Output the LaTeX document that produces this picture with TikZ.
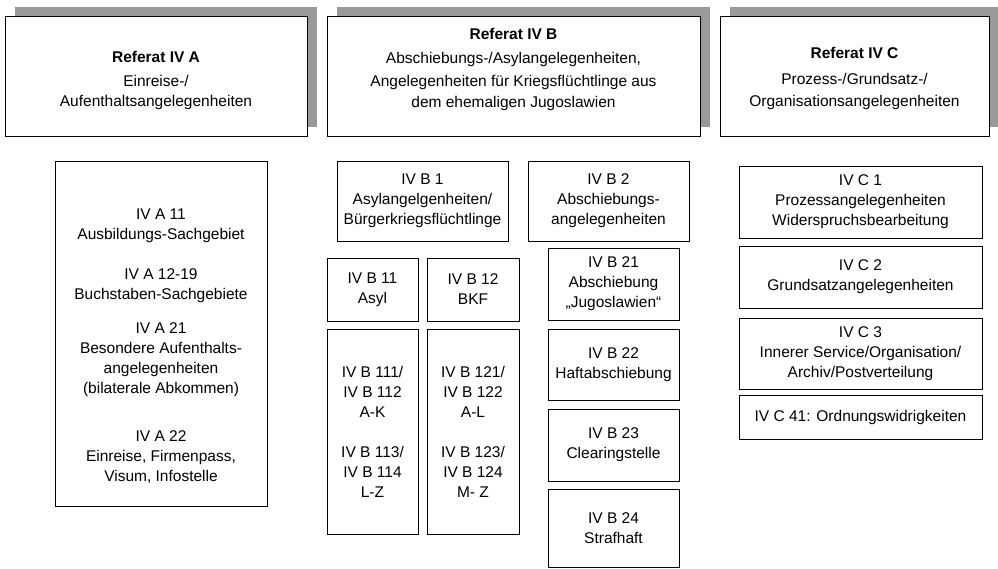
\documentclass[tikz,border=0pt]{standalone}
\usepackage{fontspec}
\setmainfont{Liberation Sans}
\usepackage{tikz}
\usetikzlibrary{shadows,positioning,calc}
\definecolor{schatten}{HTML}{999999}

\begin{document}
\begin{tikzpicture}[x=1pt, y=-1pt,
		every node/.style={font=\fontsize{15.5}{20}\selectfont},
		kasten/.style={draw, rectangle, fill=white, align=center, line width=0.8pt, inner sep=0pt},
		fach/.style={kasten, execute at begin node={\mbox{}\\[-3pt]}},
		referat/.style={kasten, minimum height=120pt, drop shadow={shadow xshift=10pt, shadow yshift=10pt, fill=schatten, opacity=1}}]
		\useasboundingbox (0,0) rectangle (998,568);
		% Referate
		\node[referat, minimum width=302pt] (refa) at (156,76.5) {\mbox{}\\[-1pt] \textbf{Referat IV A}\\[4pt] Einreise-/\\ Aufenthaltsangelegenheiten};
		\node[referat, minimum width=373pt] (refb) at (513.5,76.5) {\textbf{Referat IV B}\\[4pt] Abschiebungs-/Asylangelegenheiten,\\[3pt] Angelegenheiten für Kriegsflüchtlinge aus\\[1pt] dem ehemaligen Jugoslawien\\[-2pt] \mbox{}};
		\node[referat, minimum width=269pt] (refc) at (854.5,76.5) {\mbox{}\\[-4pt] \textbf{Referat IV C}\\[6pt] Prozess-/Grundsatz-/\\[2pt] Organisationsangelegenheiten};
		
		% IV A
		\node[kasten, minimum width=212pt, minimum height=345pt] (ia) at (161,333.5) {\mbox{}\\[16pt] IV A 11\\ Ausbildungs-Sachgebiet\\[20pt] IV A 12-19\\ Buchstaben-Sachgebiete\\[14pt] IV A 21\\ Besondere Aufenthalts-\\ angelegenheiten\\ (bilaterale Abkommen)\\[28pt] IV A 22\\ Einreise, Firmenpass,\\ Visum, Infostelle};
		
		% IV B
		\node[fach, minimum width=171pt, minimum height=80pt] (ib1) at (422.5,201) {IV B 1\\ Asylangelgenheiten/\\ Bürgerkriegsflüchtlinge};
		\node[fach, minimum width=161pt, minimum height=80pt] (ib2) at (608.5,201) {IV B 2\\ Abschiebungs-\\ angelegenheiten};
		\node[fach, minimum width=91pt, minimum height=63pt] (ib11) at (372.5,289.5) {IV B 11\\ Asyl};
		\node[fach, minimum width=92pt, minimum height=63pt] (ib12) at (473,289.5) {IV B 12\\ BKF};
		\node[fach, minimum width=91pt, minimum height=205pt] (ib111) at (372.5,431.5) {IV B 111/\\ IV B 112\\ A-K\\[20pt] IV B 113/\\ IV B 114\\ L-Z};
		\node[fach, minimum width=92pt, minimum height=205pt] (ib121) at (473,431.5) {IV B 121/\\ IV B 122\\ A-L\\[20pt] IV B 123/\\ IV B 124\\ M- Z};
		\node[fach, minimum width=131pt, minimum height=72pt] (ib21) at (613.5,284) {IV B 21\\ Abschiebung\\ „Jugoslawien“};
		\node[fach, minimum width=131pt, minimum height=71pt] (ib22) at (613.5,364.5) {IV B 22\\ Haftabschiebung};
		\node[fach, minimum width=131pt, minimum height=72pt] (ib23) at (613.5,445) {IV B 23\\ Clearingstelle};
		\node[fach, minimum width=131pt, minimum height=78pt] (ib24) at (613.5,528) {IV B 24\\ Strafhaft};
		
		% IV C
		\node[fach, minimum width=243pt, minimum height=72pt] (ic1) at (860.5,202) {IV C 1\\ Prozessangelegenheiten\\ Widerspruchsbearbeitung};
		\node[fach, minimum width=243pt, minimum height=62pt] (ic2) at (860.5,277) {IV C 2\\ Grundsatzangelegenheiten};
		\node[fach, minimum width=243pt, minimum height=71pt] (ic3) at (860.5,353.5) {IV C 3\\ Innerer Service/Organisation/\\ Archiv/Postverteilung};
		\node[kasten, minimum width=243pt, minimum height=44pt] (ic41) at (860.5,417) {IV C 41: Ordnungswidrigkeiten};
\end{tikzpicture}
\end{document}
